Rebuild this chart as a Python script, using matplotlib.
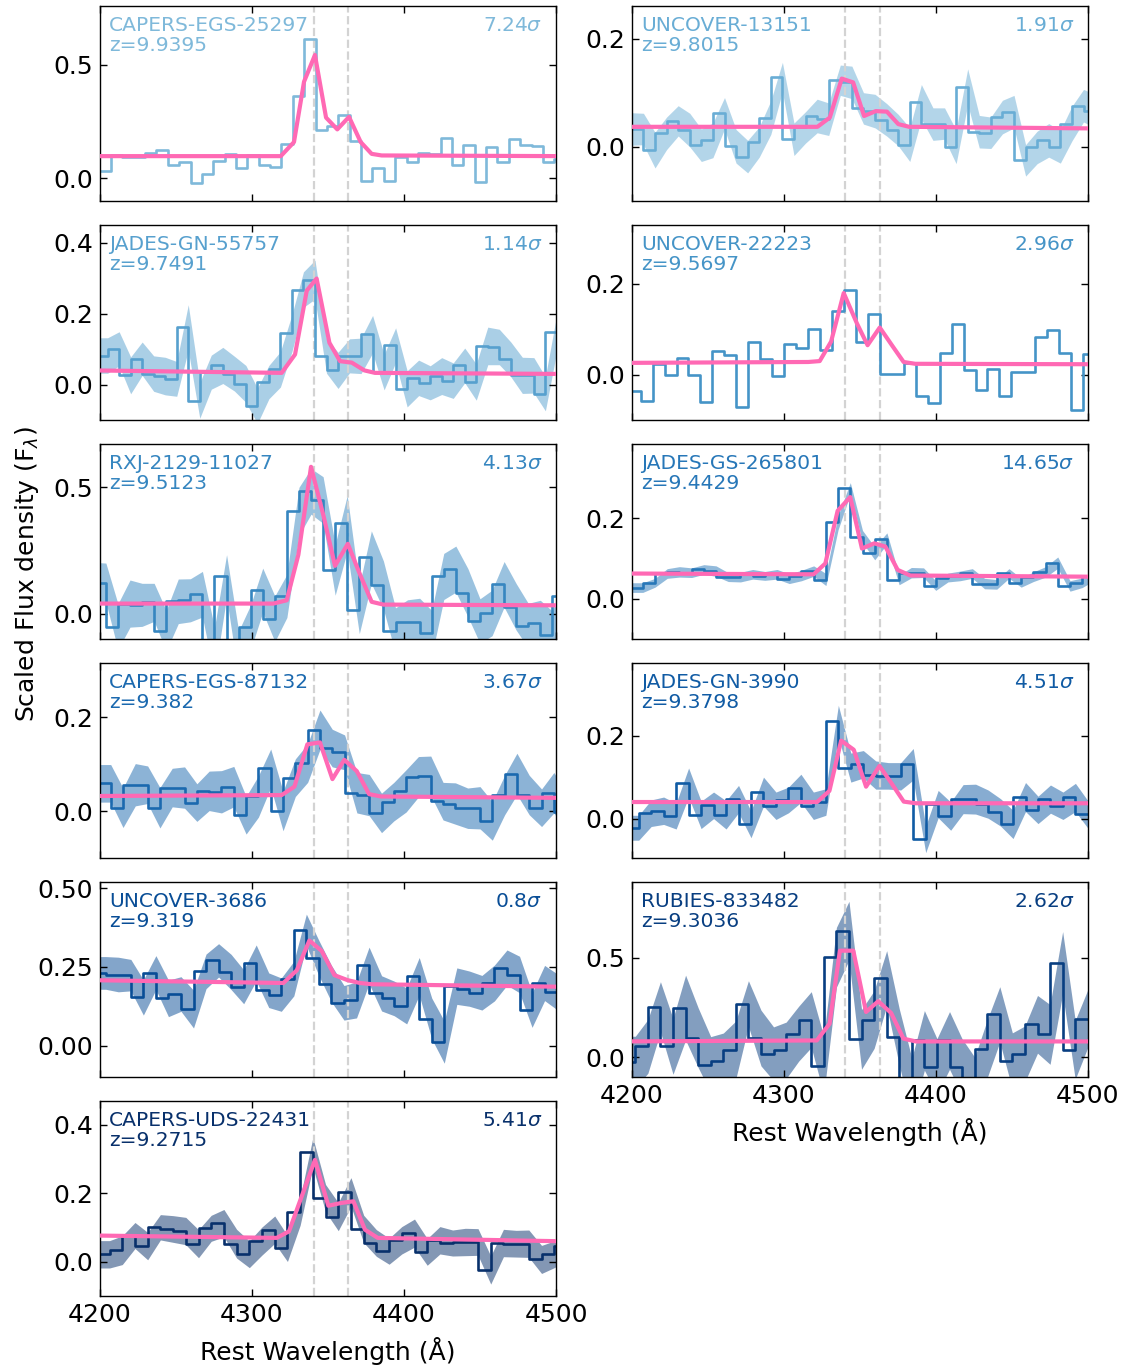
import matplotlib.pyplot as plt
import numpy as np

# H-gamma and [OIII] 4363 rest wavelengths (air)
line_waves = [4340.47, 4363.21]

names = ['CAPERS-EGS-25297', 'UNCOVER-13151', 'JADES-GN-55757', 'UNCOVER-22223',
         'RXJ-2129-11027', 'JADES-GS-265801', 'CAPERS-EGS-87132', 'JADES-GN-3990',
         'UNCOVER-3686', 'RUBIES-833482', 'CAPERS-UDS-22431']
redshifts = ['9.9395', '9.8015', '9.7491', '9.5697', '9.5123', '9.4429',
             '9.382', '9.3798', '9.319', '9.3036', '9.2715']
signif = ['7.24', '1.91', '1.14', '2.96', '4.13', '14.65',
          '3.67', '4.51', '0.8', '2.62', '5.41']

# wavelength of the first sample and the bin width (rest-frame, Angstrom)
wave_start = [4199.7, 4199.9, 4197.4, 4197.8, 4195.9, 4199.1,
              4198.9, 4196.2, 4195.5, 4193.9, 4197.9]
wave_step = [7.48, 7.62, 7.58, 7.87, 7.94, 8.03, 8.10, 8.21, 8.25, 8.27, 8.36]

ylims = [(-0.1, 0.76), (-0.1, 0.26), (-0.1, 0.45), (-0.1, 0.33), (-0.1, 0.67),
         (-0.1, 0.385), (-0.1, 0.315), (-0.095, 0.375), (-0.1, 0.52),
         (-0.1, 0.88), (-0.1, 0.47)]
yticks = [[0.0, 0.5], [0.0, 0.2], [0.0, 0.2, 0.4], [0.0, 0.2], [0.0, 0.5],
          [0.0, 0.2], [0.0, 0.2], [0.0, 0.2], [0.0, 0.25, 0.5], [0.0, 0.5],
          [0.0, 0.2, 0.4]]

# ---- spectra ----
flux_egs25297 = [0.034, 0.034, 0.104, 0.093, 0.093, 0.111, 0.126, 0.059, 0.071, -0.022, 0.019,
                 0.078, 0.108, 0.044, 0.101, 0.060, 0.050, 0.152, 0.362, 0.614, 0.214,
                 0.229, 0.278, 0.163, -0.010, 0.044, -0.010, 0.093, 0.074, 0.111, 0.108,
                 0.179, 0.059, 0.145, -0.015, 0.138, 0.074, 0.175, 0.148, 0.142, 0.074, 0.086]
err_egs25297 = None
model_egs25297_x = [4195, 4318.9, 4327.6, 4334.2, 4341.4, 4348.7, 4356.1, 4363.8, 4371.5, 4378.7, 4385.3, 4505]
model_egs25297_y = [0.098, 0.098, 0.160, 0.426, 0.544, 0.268, 0.216, 0.271, 0.160, 0.108, 0.101, 0.098]

flux_unc13151 = [0.033, 0.033, -0.006, 0.025, 0.048, 0.031, 0.003, 0.012, 0.062, 0.001, -0.018,
                 0.009, 0.054, 0.129, 0.014, 0.036, 0.057, 0.051, 0.123, 0.119, 0.071,
                 0.066, 0.050, 0.031, 0.004, 0.083, 0.042, 0.043, 0.000, 0.111, 0.028,
                 0.026, 0.055, 0.065, -0.025, -0.001, 0.012, 0.000, 0.043, 0.076, 0.066]
err_unc13151 = [0.030, 0.029, 0.033, 0.030, 0.028, 0.031, 0.030, 0.032, 0.029, 0.031,
                0.030, 0.028, 0.031, 0.027, 0.030, 0.029, 0.031, 0.030, 0.028, 0.030,
                0.029, 0.031, 0.030, 0.029, 0.031, 0.032, 0.030, 0.029, 0.031, 0.033,
                0.030, 0.029, 0.031, 0.030, 0.029, 0.030, 0.031, 0.030, 0.032, 0.030, 0.031]
model_unc13151_x = [4195, 4322.0, 4330.1, 4338.0, 4345.5, 4352.7, 4360.4, 4367.7, 4375.2, 4382.4, 4505]
model_unc13151_y = [0.037, 0.037, 0.054, 0.126, 0.119, 0.057, 0.066, 0.065, 0.042, 0.037, 0.034]

flux_gn55757 = [0.082, 0.082, 0.101, 0.026, 0.073, 0.031, 0.024, 0.016, 0.161, -0.045, 0.035,
                0.054, 0.031, 0.002, -0.060, 0.007, 0.043, 0.145, 0.268, 0.296, 0.081,
                0.040, 0.081, 0.081, 0.142, 0.035, 0.111, -0.012, 0.019, 0.005, 0.024,
                0.011, 0.054, 0.007, 0.109, 0.106, 0.071, 0.026, 0.026, -0.026, 0.147]
err_gn55757 = [0.050, 0.050, 0.048, 0.052, 0.047, 0.050, 0.053, 0.049, 0.064, 0.050,
               0.048, 0.051, 0.049, 0.052, 0.050, 0.047, 0.050, 0.052, 0.050, 0.055,
               0.049, 0.051, 0.048, 0.050, 0.053, 0.050, 0.049, 0.051, 0.050, 0.048,
               0.052, 0.050, 0.049, 0.051, 0.053, 0.050, 0.049, 0.051, 0.050, 0.048, 0.052]
model_gn55757_x = [4195, 4319.5, 4328.3, 4336.0, 4342.5, 4350.9, 4357.9, 4365.6, 4373.9, 4380.9, 4505]
model_gn55757_y = [0.040, 0.033, 0.085, 0.265, 0.299, 0.118, 0.066, 0.062, 0.040, 0.033, 0.030]

flux_unc22223 = [-0.035, -0.035, -0.059, 0.024, 0.000, 0.037, 0.000, -0.061, 0.052, 0.043, -0.072,
                 0.071, 0.034, -0.004, 0.067, 0.059, 0.101, 0.054, 0.141, 0.186, 0.071,
                 0.133, 0.001, 0.001, 0.025, -0.046, -0.063, 0.048, 0.111, 0.010, -0.033,
                 0.013, -0.046, 0.006, 0.007, 0.084, 0.099, 0.048, -0.078, 0.045]
err_unc22223 = None
model_unc22223_x = [4195, 4316.0, 4323.5, 4331.0, 4339.3, 4348.0, 4355.0, 4363.0, 4371.0, 4378.7, 4386.4, 4505]
model_unc22223_y = [0.026, 0.028, 0.030, 0.073, 0.180, 0.113, 0.065, 0.104, 0.065, 0.028, 0.024, 0.023]

flux_rxj11027 = [0.123, 0.123, -0.051, 0.040, 0.035, 0.045, -0.067, 0.049, 0.053, 0.077, -0.150,
                 0.149, -0.160, -0.053, 0.093, -0.020, 0.070, 0.404, 0.483, 0.449, 0.173,
                 0.357, 0.016, 0.223, 0.113, -0.067, -0.033, -0.031, -0.077, 0.147, 0.176,
                 0.083, -0.029, 0.003, 0.116, 0.027, -0.047, -0.037, -0.083, 0.069]
err_rxj11027 = [0.080, 0.077, 0.090, 0.093, 0.085, 0.075, 0.080, 0.088, 0.085, 0.090,
                0.095, 0.084, 0.092, 0.088, 0.087, 0.090, 0.085, 0.095, 0.090, 0.092,
                0.100, 0.110, 0.095, 0.104, 0.095, 0.090, 0.088, 0.092, 0.090, 0.091,
                0.091, 0.095, 0.088, 0.090, 0.090, 0.092, 0.088, 0.090, 0.093, 0.085]
model_rxj11027_x = [4195, 4314.0, 4322.8, 4330.5, 4338.8, 4347.0, 4354.6, 4363.0, 4370.7, 4378.7, 4386.4, 4505]
model_rxj11027_y = [0.040, 0.040, 0.053, 0.233, 0.580, 0.387, 0.189, 0.276, 0.160, 0.047, 0.036, 0.033]

flux_gs265801 = [0.028, 0.028, 0.040, 0.063, 0.067, 0.065, 0.073, 0.069, 0.054, 0.054, 0.061,
                 0.057, 0.061, 0.050, 0.058, 0.069, 0.048, 0.190, 0.275, 0.155, 0.113,
                 0.150, 0.047, 0.065, 0.065, 0.033, 0.053, 0.057, 0.063, 0.038, 0.036,
                 0.063, 0.040, 0.055, 0.067, 0.090, 0.032, 0.040, 0.058]
err_gs265801 = [0.012, 0.012, 0.011, 0.012, 0.013, 0.012, 0.012, 0.013, 0.011, 0.012,
                0.012, 0.011, 0.012, 0.012, 0.013, 0.013, 0.015, 0.018, 0.014, 0.015,
                0.016, 0.014, 0.012, 0.013, 0.012, 0.012, 0.011, 0.012, 0.012, 0.013,
                0.012, 0.012, 0.011, 0.012, 0.013, 0.014, 0.013, 0.012, 0.012]
model_gs265801_x = [4195, 4319.5, 4327.2, 4335.3, 4343.6, 4351.3, 4359.4, 4366.7, 4374.8, 4383.1, 4505]
model_gs265801_y = [0.063, 0.061, 0.088, 0.219, 0.253, 0.125, 0.138, 0.130, 0.072, 0.058, 0.055]

flux_egs87132 = [0.059, 0.059, 0.007, 0.056, 0.056, 0.007, 0.050, 0.050, 0.018, 0.043, 0.041,
                 0.052, -0.009, 0.031, 0.091, 0.000, 0.071, 0.102, 0.173, 0.134, 0.125,
                 0.039, 0.034, -0.004, 0.020, 0.043, 0.073, 0.075, 0.021, 0.016, 0.006,
                 0.007, -0.021, 0.034, 0.079, 0.034, 0.007, 0.039, -0.001]
err_egs87132 = [0.040, 0.040, 0.042, 0.045, 0.040, 0.043, 0.041, 0.044, 0.040, 0.042,
                0.045, 0.043, 0.040, 0.044, 0.041, 0.042, 0.040, 0.041, 0.042, 0.040,
                0.037, 0.043, 0.044, 0.042, 0.041, 0.045, 0.043, 0.042, 0.040, 0.044,
                0.043, 0.045, 0.041, 0.042, 0.044, 0.042, 0.040, 0.043, 0.042]
model_egs87132_x = [4195, 4319.5, 4327.9, 4336.4, 4344.7, 4352.9, 4360.7, 4368.9, 4377.0, 4384.9, 4505]
model_egs87132_y = [0.032, 0.034, 0.052, 0.142, 0.146, 0.068, 0.109, 0.085, 0.036, 0.031, 0.028]

flux_gn3990 = [-0.022, -0.022, 0.013, 0.019, 0.006, 0.087, 0.009, 0.032, 0.009, 0.047, -0.014,
               0.065, 0.031, 0.045, 0.073, 0.031, 0.040, 0.235, 0.123, 0.131, 0.105,
               0.103, 0.102, 0.131, -0.050, 0.035, 0.006, 0.047, 0.047, 0.035, 0.015,
               -0.014, 0.052, 0.021, 0.047, 0.031, 0.051, 0.010]
err_gn3990 = [0.030, 0.030, 0.032, 0.033, 0.031, 0.035, 0.033, 0.032, 0.034, 0.033,
              0.032, 0.035, 0.033, 0.031, 0.034, 0.033, 0.032, 0.038, 0.035, 0.033,
              0.034, 0.032, 0.033, 0.038, 0.032, 0.033, 0.034, 0.035, 0.036, 0.034,
              0.033, 0.034, 0.035, 0.033, 0.034, 0.033, 0.034, 0.033]
model_gn3990_x = [4195, 4321.8, 4329.9, 4337.6, 4345.9, 4354.0, 4362.8, 4370.4, 4378.8, 4386.8, 4505]
model_gn3990_y = [0.040, 0.040, 0.067, 0.188, 0.166, 0.077, 0.127, 0.087, 0.041, 0.037, 0.037]

flux_unc3686 = [0.231, 0.231, 0.226, 0.224, 0.153, 0.232, 0.150, 0.164, 0.116, 0.236, 0.271,
                0.234, 0.187, 0.263, 0.176, 0.162, 0.213, 0.368, 0.278, 0.197, 0.136,
                0.145, 0.255, 0.166, 0.150, 0.126, 0.220, 0.086, 0.011, 0.189, 0.181,
                0.168, 0.199, 0.248, 0.226, 0.113, 0.199, 0.171]
err_unc3686 = [0.052, 0.052, 0.055, 0.050, 0.056, 0.054, 0.058, 0.055, 0.060, 0.055,
               0.053, 0.056, 0.054, 0.057, 0.055, 0.053, 0.055, 0.050, 0.056, 0.058,
               0.055, 0.057, 0.058, 0.056, 0.055, 0.057, 0.060, 0.065, 0.067, 0.058,
               0.056, 0.055, 0.057, 0.056, 0.058, 0.055, 0.056, 0.057]
model_unc3686_x = [4195, 4320.6, 4329.4, 4337.7, 4345.8, 4354.2, 4362.9, 4371.0, 4379.0, 4505]
model_unc3686_y = [0.208, 0.199, 0.239, 0.334, 0.301, 0.224, 0.208, 0.199, 0.195, 0.187]

flux_rub833482 = [-0.025, -0.025, 0.054, 0.253, 0.054, 0.249, 0.098, -0.037, -0.017, 0.037, 0.269,
                  0.096, 0.017, 0.034, 0.118, 0.189, -0.042, 0.502, 0.635, 0.089, 0.189,
                  0.396, 0.101, -0.150, 0.084, -0.047, 0.084, -0.050, -0.140, 0.042, 0.215,
                  -0.020, 0.017, 0.165, 0.114, 0.475, 0.037, 0.194]
err_rub833482 = [0.130, 0.130, 0.135, 0.126, 0.140, 0.163, 0.150, 0.140, 0.138, 0.145,
                 0.115, 0.140, 0.135, 0.142, 0.138, 0.140, 0.145, 0.150, 0.148, 0.150,
                 0.145, 0.139, 0.142, 0.145, 0.150, 0.140, 0.145, 0.142, 0.140, 0.145,
                 0.139, 0.142, 0.140, 0.145, 0.150, 0.156, 0.148, 0.145]
model_rub833482_x = [4195, 4321.6, 4330.0, 4336.8, 4345.6, 4354.0, 4362.0, 4370.5, 4378.6, 4386.7, 4505]
model_rub833482_y = [0.079, 0.084, 0.168, 0.535, 0.535, 0.227, 0.281, 0.222, 0.093, 0.079, 0.079]

flux_uds22431 = [0.022, 0.022, 0.034, 0.077, 0.046, 0.101, 0.096, 0.090, 0.053, 0.098, 0.113,
                 0.053, 0.022, 0.061, 0.094, 0.039, 0.147, 0.320, 0.186, 0.132, 0.204,
                 0.096, 0.055, 0.031, 0.063, 0.084, 0.029, 0.063, 0.055, 0.058, 0.058,
                 -0.024, 0.055, 0.053, 0.053, 0.007, 0.022, 0.045]
err_uds22431 = [0.040, 0.040, 0.042, 0.038, 0.040, 0.037, 0.039, 0.040, 0.041, 0.038,
                0.040, 0.042, 0.039, 0.041, 0.040, 0.038, 0.040, 0.043, 0.040, 0.041,
                0.042, 0.040, 0.039, 0.038, 0.040, 0.041, 0.039, 0.040, 0.038, 0.040,
                0.039, 0.041, 0.040, 0.039, 0.040, 0.041, 0.039, 0.040]
model_uds22431_x = [4195, 4316.2, 4324.3, 4341.4, 4350.2, 4358.6, 4366.7, 4374.3, 4382.7, 4505]
model_uds22431_y = [0.077, 0.070, 0.089, 0.298, 0.164, 0.172, 0.177, 0.094, 0.070, 0.060]

spectra = [
    (flux_egs25297, err_egs25297, model_egs25297_x, model_egs25297_y),
    (flux_unc13151, err_unc13151, model_unc13151_x, model_unc13151_y),
    (flux_gn55757, err_gn55757, model_gn55757_x, model_gn55757_y),
    (flux_unc22223, err_unc22223, model_unc22223_x, model_unc22223_y),
    (flux_rxj11027, err_rxj11027, model_rxj11027_x, model_rxj11027_y),
    (flux_gs265801, err_gs265801, model_gs265801_x, model_gs265801_y),
    (flux_egs87132, err_egs87132, model_egs87132_x, model_egs87132_y),
    (flux_gn3990, err_gn3990, model_gn3990_x, model_gn3990_y),
    (flux_unc3686, err_unc3686, model_unc3686_x, model_unc3686_y),
    (flux_rub833482, err_rub833482, model_rub833482_x, model_rub833482_y),
    (flux_uds22431, err_uds22431, model_uds22431_x, model_uds22431_y),
]

colors = plt.cm.Blues(np.linspace(0.45, 1.0, len(names)))

fig, axes = plt.subplots(6, 2, figsize=(11.28, 13.67), dpi=100,
                         gridspec_kw=dict(left=0.0887, right=0.9645, top=0.9956,
                                          bottom=0.0519, wspace=0.1667, hspace=0.123))
axes[5, 1].remove()

for i, (flux, err, mx, my) in enumerate(spectra):
    ax = axes[i // 2, i % 2]
    c = colors[i]
    flux = np.array(flux)
    wave = wave_start[i] + wave_step[i] * np.arange(len(flux))

    if err is not None:
        err = np.array(err)
        ax.fill_between(wave, flux - err, flux + err, color=c, alpha=0.5, lw=0, zorder=1)
    for lw_ in line_waves:
        ax.axvline(lw_, color='lightgray', ls='--', lw=1.6, zorder=1.5)
    ax.step(wave, flux, where='pre', color=c, lw=1.9, zorder=2)
    ax.plot(mx, my, color='#ff69b4', lw=3, zorder=3)

    ax.text(0.02, 0.948, f'{names[i]}\nz={redshifts[i]}', transform=ax.transAxes,
            ha='left', va='top', color=c, fontsize=14.6, linespacing=1.05)
    ax.text(0.97, 0.948, f'{signif[i]}$\\sigma$', transform=ax.transAxes,
            ha='right', va='top', color=c, fontsize=14.6)

    ax.set_xlim(4200, 4500)
    ax.set_ylim(*ylims[i])
    ax.set_xticks([4200, 4300, 4400, 4500])
    ax.set_yticks(yticks[i])
    bottom_panel = (i == len(names) - 1) or (i == len(names) - 2)
    ax.tick_params(direction='in', top=True, right=True, length=5, width=1,
                   labelsize=18, pad=5, labelbottom=bottom_panel)
    for sp in ax.spines.values():
        sp.set_linewidth(1.0)
    if bottom_panel:
        ax.set_xlabel('Rest Wavelength (Å)', fontsize=18, labelpad=7)

fig.text(0.024, 0.58, 'Scaled Flux density (F$_\\lambda$)', rotation=90,
         ha='center', va='center', fontsize=18)

fig.savefig('out.png', dpi=100)
